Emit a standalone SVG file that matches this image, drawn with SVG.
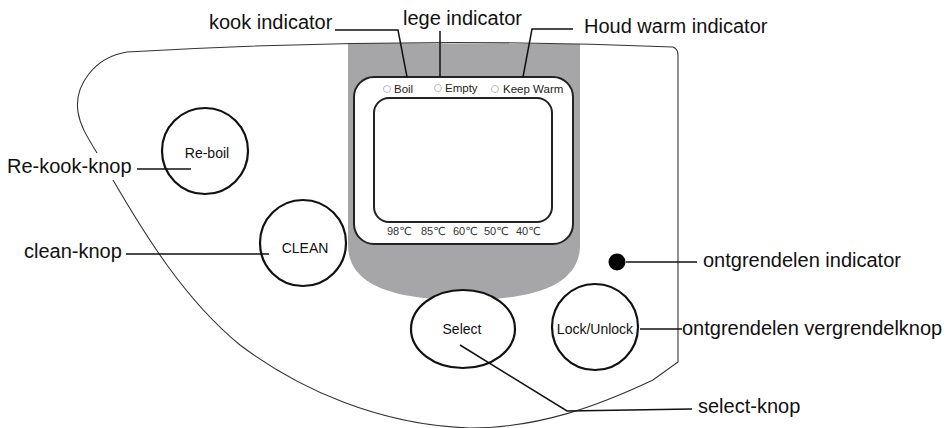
<svg xmlns="http://www.w3.org/2000/svg" width="951" height="428" viewBox="0 0 951 428">
<style>
.lbl{font-family:"Liberation Sans",Arial,sans-serif;font-size:20px;fill:#111}
.btn{font-family:"Liberation Sans",Arial,sans-serif;font-size:14px;fill:#111;text-anchor:middle}
.ind{font-family:"Liberation Sans",Arial,sans-serif;font-size:11.5px;fill:#222}
.tmp{font-family:"Liberation Sans","DejaVu Sans","Noto Sans CJK SC",sans-serif;font-size:11px;fill:#333}
.outline{fill:none;stroke:#333;stroke-width:1.1}
.ring{fill:#fff;stroke:#111;stroke-width:2.2}
.lead{fill:none;stroke:#111;stroke-width:1.5}
.led{fill:#fff;stroke:#aaa;stroke-width:0.8}
</style>
<rect width="951" height="428" fill="#fff"/>
<g id="panel">
<path d="M348,43 L580,44 L580,245 C580,287 530,300 464,300 C398,300 348,287 348,245 Z" fill="#a6a5a7"/>
<path class="outline" d="M97,153 C86,135 80,125 78,112 C74,85 95,57 127,52 Q400,36 673,47 Q678,49 678,55 L678,362 L653,380 C600,405 540,428 470,428 C380,425 300,390 240,345 C185,300 145,235 113,180"/>
</g>
<g id="display">
<rect x="354" y="77" width="219" height="167" rx="20" fill="#fff" stroke="#222" stroke-width="2"/>
<rect x="374" y="98" width="178" height="124" rx="15" fill="#fff" stroke="#222" stroke-width="2"/>
<circle class="led" cx="387" cy="89" r="3.5"/>
<text class="ind" x="394" y="93">Boil</text>
<circle class="led" cx="438" cy="88" r="3.5"/>
<text class="ind" x="445" y="92">Empty</text>
<circle class="led" cx="495" cy="89" r="3.5"/>
<text class="ind" x="503" y="93">Keep Warm</text>
<text class="tmp" x="387" y="235">98℃</text>
<text class="tmp" x="421" y="235">85℃</text>
<text class="tmp" x="453" y="235">60℃</text>
<text class="tmp" x="484" y="235">50℃</text>
<text class="tmp" x="516" y="235">40℃</text>
</g>
<g id="reboil">
<circle class="ring" cx="205" cy="151" r="43"/>
<text class="btn" x="207" y="158">Re-boil</text>
</g>
<g id="clean">
<circle class="ring" cx="303" cy="243" r="43"/>
<text class="btn" x="305" y="253">CLEAN</text>
</g>
<g id="select">
<ellipse class="ring" cx="463" cy="329" rx="52" ry="39"/>
<text class="btn" x="462" y="334">Select</text>
</g>
<g id="lock">
<circle class="ring" cx="595" cy="327" r="43"/>
<text class="btn" x="595" y="334">Lock/Unlock</text>
</g>
<g id="unlock-led">
<circle cx="617" cy="262" r="8.5" fill="#000"/>
</g>
<g id="connectors">
<polyline class="lead" points="335,30 398,30 407,77"/>
<polyline class="lead" points="440,31 440,77"/>
<polyline class="lead" points="573,29 532,29 523,77"/>
<polyline class="lead" points="137,169 191,169"/>
<polyline class="lead" points="126,254 269,254"/>
<polyline class="lead" points="460,345 567,411 692,409"/>
<polyline class="lead" points="640,329 682,329"/>
<polyline class="lead" points="626,262 697,262"/>
</g>
<g id="labels">
<text class="lbl" x="209" y="29">kook indicator</text>
<text class="lbl" x="403" y="25">lege indicator</text>
<text class="lbl" x="584" y="33">Houd warm indicator</text>
<text class="lbl" x="7" y="173">Re-kook-knop</text>
<text class="lbl" x="24" y="258">clean-knop</text>
<text class="lbl" x="703" y="267">ontgrendelen indicator</text>
<text class="lbl" x="682" y="335">ontgrendelen vergrendelknop</text>
<text class="lbl" x="698" y="413">select-knop</text>
</g>
</svg>
